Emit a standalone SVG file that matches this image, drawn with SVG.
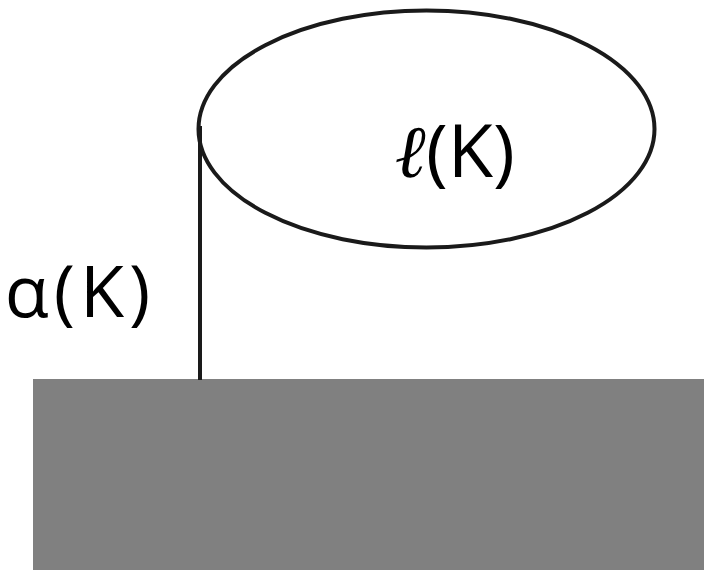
<svg xmlns="http://www.w3.org/2000/svg" width="704" height="570" viewBox="0 0 704 570">
<style>
.lbl{font-family:"Open Sans","Noto Sans","DejaVu Sans",sans-serif;fill:#000}
.stk{fill:none;stroke:#1a1a1a;stroke-width:4}
</style>
<rect width="704" height="570" fill="#fff"/>
<g id="ground"><rect x="33" y="379" width="671" height="191" fill="#808080"/></g>
<g id="connectors"><line class="stk" x1="200" y1="126" x2="200" y2="380"/></g>
<g id="loop"><ellipse class="stk" cx="426.5" cy="129" rx="228" ry="118.5"/>
<text class="lbl" x="455" y="177" font-size="74" text-anchor="middle"><tspan font-family="'DejaVu Serif',serif" font-style="italic">ℓ</tspan>(K)</text></g>
<g id="alpha"><text class="lbl" x="80" y="317" font-size="72" text-anchor="middle" letter-spacing="5">α(K)</text></g>
</svg>
